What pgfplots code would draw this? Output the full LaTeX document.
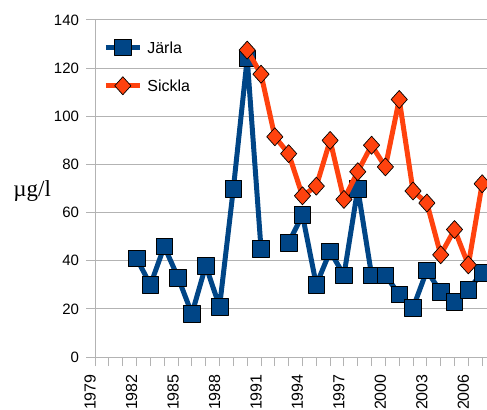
\documentclass[border=0pt]{standalone}
\usepackage{fontspec}
\setmainfont{Liberation Sans}
\newfontfamily\seriffont{Liberation Serif}
\usepackage{pgfplots}
\pgfplotsset{compat=1.18}
\definecolor{jblue}{HTML}{004586}
\definecolor{sorange}{HTML}{FF420E}
\definecolor{gridgray}{HTML}{B3B3B3}
\begin{document}
\begin{tikzpicture}
\begin{axis}[
  at={(0,0)}, anchor=south west,
  scale only axis, width=392pt, height=337.3pt,
  xmin=1979, xmax=2007.35, ymin=0, ymax=140,
  axis lines*=left,
  axis line style={draw=gridgray, line width=1pt},
  ytick={0,20,...,140},
  xtick={1979,1982,...,2006},
  minor xtick={1979,...,2007},
  tick style={draw=gridgray, line width=1pt},
  major tick length=9pt, minor tick length=9pt,
  tick align=outside,
  ymajorgrids, grid style={draw=gridgray, line width=1pt},
  /pgf/number format/assume math mode=true,
  /pgf/number format/set thousands separator={},
  xticklabel style={rotate=90, anchor=east, inner sep=0pt, xshift=-8pt, yshift=5pt, font=\fontsize{16}{16}\selectfont},
  yticklabel style={anchor=east, inner sep=0pt, xshift=-7pt, font=\fontsize{15}{15}\selectfont},
  clip marker paths=true,
  unbounded coords=jump,
  legend cell align=left,
  legend style={at={(0,1)}, anchor=north west, xshift=8pt, yshift=-19pt, draw=none, fill=none,
    inner sep=0pt, font=\fontsize{16}{16}\selectfont, row sep=21pt,
    nodes={inner sep=0pt, text depth=0pt}, column sep=5pt},
  legend image code/.code={\draw[mark repeat=2,mark phase=2,#1] plot coordinates {(0pt,0pt) (17pt,0pt) (34pt,0pt)};},
]
\addplot[color=jblue, line width=5pt, line join=round, mark=square*,
  mark size=8.3pt, mark options={draw=black, line width=0.7pt, fill=jblue}]
coordinates {
(1982,41)(1983,30)(1984,46)(1985,33)(1986,18)(1987,38)(1988,21)(1989,70)(1990,124)(1991,45)
(1992,nan)
(1993,47.5)(1994,59)(1995,30)(1996,44)(1997,34)(1998,70)(1999,34)(2000,34)(2001,26)(2002,20.5)
(2003,36)(2004,27)(2005,23)(2006,28)(2007,35)
};
\addlegendentry{Järla}
\addplot[color=sorange, line width=5pt, line join=round, mark=diamond*,
  mark size=9pt, mark options={draw=black, line width=0.7pt, fill=sorange, xscale=1.2}]
coordinates {
(1990,127.5)(1991,117.5)(1992,91.5)(1993,84.5)(1994,67)(1995,71)(1996,90)(1997,65.5)(1998,77)
(1999,88)(2000,79)(2001,107)(2002,69)(2003,64)(2004,42.5)(2005,53)(2006,38.3)(2007,72)
};
\addlegendentry{Sickla}
\end{axis}
\node[anchor=west, inner sep=0pt, font=\seriffont\fontsize{23}{23}\selectfont] at (-82pt,166pt) {µg/l};
\pgfresetboundingbox
\useasboundingbox (-95.2pt,-52.7pt) rectangle (392pt,357.3pt);
\end{tikzpicture}
\end{document}
